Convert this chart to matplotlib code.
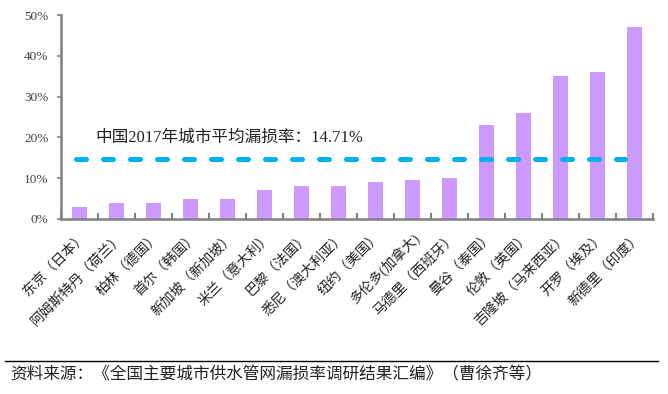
import matplotlib
matplotlib.use("Agg")
import matplotlib.pyplot as plt
from matplotlib.lines import Line2D
from matplotlib.transforms import ScaledTranslation
import numpy as np

plt.rcParams['font.family'] = ['Liberation Serif', 'Noto Sans CJK SC', 'DejaVu Sans']

cities = ["东京（日本）", "阿姆斯特丹（荷兰）", "柏林（德国）", "首尔（韩国）",
          "新加坡（新加坡）", "米兰（意大利）", "巴黎（法国）", "悉尼（澳大利亚）",
          "纽约（美国）", "多伦多(加拿大)", "马德里（西班牙）", "曼谷（泰国）",
          "伦敦（英国）", "吉隆坡（马来西亚）", "开罗（埃及）", "新德里（印度）"]
leak_rate = [3, 4, 4, 5, 5, 7, 8, 8, 9, 9.5, 10, 23, 26, 35, 36, 47]
china_avg = 14.71
yticks = [0, 10, 20, 30, 40, 50]
avg_label = "中国2017年城市平均漏损率：14.71%"
source = "资料来源：《全国主要城市供水管网漏损率调研结果汇编》（曹徐齐等）"

W, H = 668, 394
fig = plt.figure(figsize=(W / 100, H / 100), dpi=100)
ax = fig.add_axes([61 / W, 1 - 219 / H, (653 - 61) / W, (219 - 15) / H])

x = np.arange(len(cities))
ax.bar(x, leak_rate, width=0.4, color="#CC99FF", zorder=2)

ax.plot([x[0] - 0.1, x[-1] - 0.25], [china_avg, china_avg], color="#00B0F0",
        lw=3.6, dashes=(2.0, 3.4), dash_capstyle="round", zorder=3)
ax.text(x[0] + 0.42, 20, avg_label, fontsize=12, color="#222222",
        va="center", ha="left")

ax.set_xlim(-0.5, len(cities) - 0.5)
ax.set_ylim(0, 50)
ax.set_yticks(yticks)
ax.set_yticklabels([f"{v}%" for v in yticks], fontsize=9.5, color="#404040")

ax.set_xticks(np.arange(len(cities) + 1) - 0.5, minor=False)
ax.set_xticklabels([])
ax.set_xticks(x, minor=True)
ax.set_xticklabels(cities, minor=True, rotation=45, ha="right", va="top",
                   rotation_mode="anchor", fontsize=10, color="#222222")
offset = ScaledTranslation(6 / 100, -10 / 100, fig.dpi_scale_trans)
for lab in ax.get_xticklabels(minor=True):
    lab.set_transform(lab.get_transform() + offset)
ax.tick_params(axis="x", which="major", direction="in", length=4, width=1.5, color="#808080")
ax.tick_params(axis="x", which="minor", length=0, pad=8)
ax.tick_params(axis="y", direction="out", length=3, width=1.2, color="#808080", pad=6)

for s in ["top", "right"]:
    ax.spines[s].set_visible(False)
for s in ["left", "bottom"]:
    ax.spines[s].set_color("#808080")
    ax.spines[s].set_linewidth(1.8)

fig.add_artist(Line2D([5 / W, 658 / W], [1 - 361 / H, 1 - 361 / H], color="black", lw=1.0))
fig.text(10 / W, 1 - 375 / H, source, fontsize=12, color="#222222", va="center", ha="left")

fig.savefig("out.png", dpi=100)
